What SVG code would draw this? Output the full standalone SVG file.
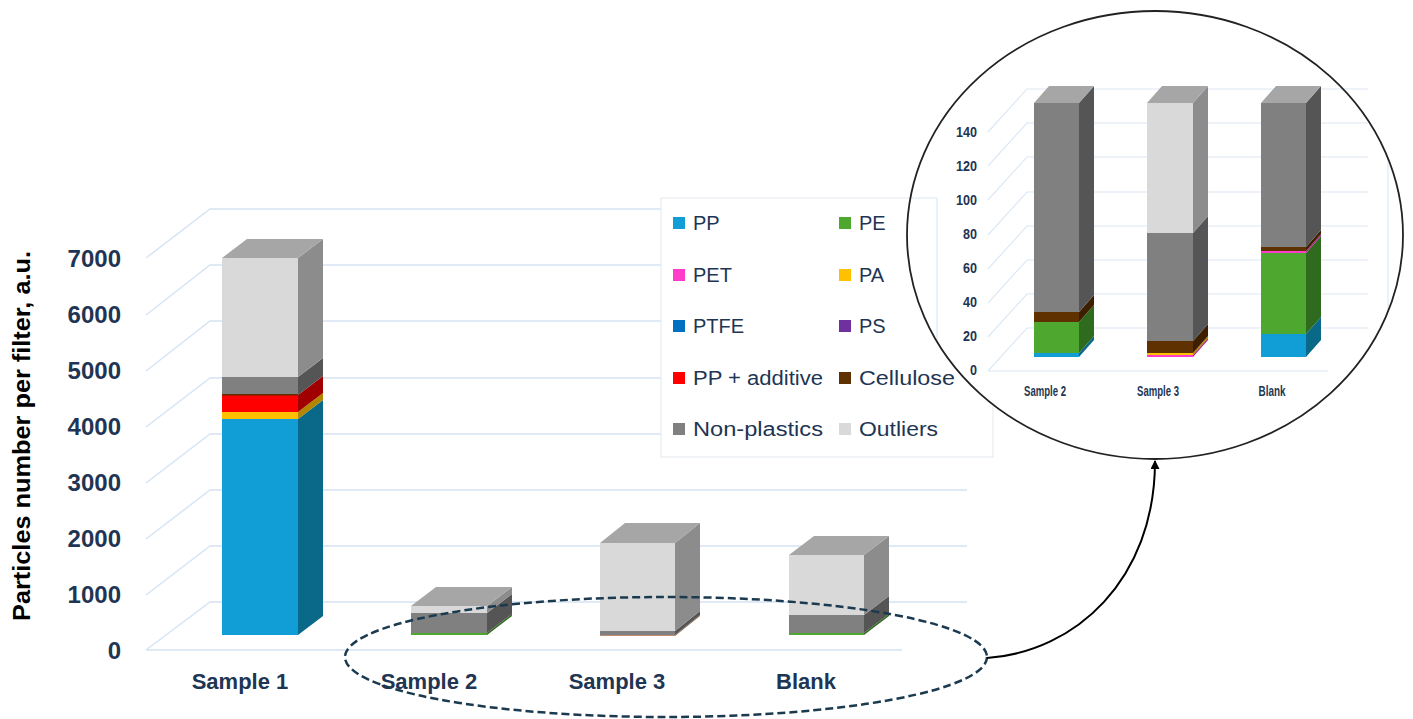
<svg xmlns="http://www.w3.org/2000/svg" width="1413" height="719" viewBox="0 0 1413 719">
<defs>
<style>
.grid{stroke:#d6e4f3;stroke-width:1.5;fill:none}
.igrid{stroke:#dde8f5;stroke-width:1.2;fill:none}
.ax{font-family:"Liberation Sans",Arial,sans-serif;font-weight:bold;font-size:24px;fill:#1e3553}
.cat{font-family:"Liberation Sans",Arial,sans-serif;font-weight:bold;font-size:22px;fill:#1e3553;text-anchor:middle}
.ttl{font-family:"Liberation Sans",Arial,sans-serif;font-weight:bold;font-size:23px;fill:#000;text-anchor:middle}
.leg{font-family:"Liberation Sans",Arial,sans-serif;font-size:20px;fill:#1e3553}
.iax{font-family:"Liberation Sans Narrow","Liberation Sans",Arial,sans-serif;font-weight:bold;font-size:15px;fill:#1e3553;text-anchor:end}
.icat{font-family:"Liberation Sans Narrow","Liberation Sans",Arial,sans-serif;font-weight:bold;font-size:14px;fill:#1e3553;text-anchor:middle}
.pp{fill:#119ed6}.pps{fill:#0a6889}
.pe{fill:#4ea72e}.pes{fill:#2e6b1e}
.pet{fill:#ff3dc8}.pets{fill:#b0208a}
.pa{fill:#ffc000}.pas{fill:#b38600}
.ptfe{fill:#0070c0}.ps{fill:#7030a0}
.ppa{fill:#ff0000}.ppas{fill:#a00000}
.cel{fill:#5f3000}.cels{fill:#3d1f00}
.np{fill:#808080}.nps{fill:#555555}
.out{fill:#d9d9d9}.outs{fill:#8c8c8c}
.top{fill:#a6a6a6}
</style>
<marker id="ah" viewBox="0 0 10 10" refX="9" refY="5" markerWidth="11" markerHeight="9" orient="auto-start-reverse" markerUnits="userSpaceOnUse">
<path d="M0,0 L10,5 L0,10 z" fill="#000"/>
</marker>
<clipPath id="ic"><ellipse cx="1155" cy="235" rx="247" ry="223"/></clipPath>
</defs>
<rect width="1413" height="719" fill="#fff"/>

<g id="grid">
<path class="grid" d="M146,650 L210,602 L967,602 M146,595 L210,546 L967,546 M146,539 L210,490 L967,490 M146,483 L210,434 L661,434 M146,427 L210,378 L661,378 M146,371 L210,321 L661,321 M146,315 L210,265 L661,265 M146,258 L210,209 L661,209 M146,650 L902,650"/>
</g>

<g id="axis-labels">
<text class="ax" x="121" y="659" text-anchor="end">0</text>
<text class="ax" x="121" y="603" text-anchor="end">1000</text>
<text class="ax" x="121" y="547" text-anchor="end">2000</text>
<text class="ax" x="121" y="491" text-anchor="end">3000</text>
<text class="ax" x="121" y="435" text-anchor="end">4000</text>
<text class="ax" x="121" y="379" text-anchor="end">5000</text>
<text class="ax" x="121" y="323" text-anchor="end">6000</text>
<text class="ax" x="121" y="267" text-anchor="end">7000</text>
<text class="ttl" transform="translate(30,436) rotate(-90)" textLength="370" lengthAdjust="spacingAndGlyphs">Particles number per filter, a.u.</text>
<text class="cat" x="240" y="689">Sample 1</text>
<text class="cat" x="429" y="689">Sample 2</text>
<text class="cat" x="617" y="689">Sample 3</text>
<text class="cat" x="806" y="689">Blank</text>
</g>

<g id="bar-sample1">
<rect class="pp" x="222" y="419" width="76" height="216"/>
<polygon class="pps" points="298,635 323,616 323,400 298,419"/>
<rect class="pa" x="222" y="412" width="76" height="7"/>
<polygon class="pas" points="298,419 323,400 323,393 298,412"/>
<rect class="ppa" x="222" y="395" width="76" height="17"/>
<polygon class="ppas" points="298,412 323,393 323,376 298,395"/>
<rect class="cel" x="222" y="394" width="76" height="1.5"/>
<rect class="np" x="222" y="377" width="76" height="17"/>
<polygon class="nps" points="298,395 323,376 323,358 298,377"/>
<rect class="out" x="222" y="258" width="76" height="119"/>
<polygon class="outs" points="298,377 323,358 323,239 298,258"/>
<polygon class="top" points="222,258 298,258 323,239 247,239"/>
</g>

<g id="bar-sample2">
<rect class="pe" x="411" y="632.5" width="76" height="2.5"/>
<polygon class="pes" points="487,635 512,616 512,614 487,633"/>
<rect class="np" x="411" y="613" width="76" height="20"/>
<polygon class="nps" points="487,633 512,614 512,594 487,613"/>
<rect class="out" x="411" y="606" width="76" height="7"/>
<polygon class="outs" points="487,613 512,594 512,587 487,606"/>
<polygon class="top" points="411,606 487,606 512,587 436,587"/>
</g>

<g id="bar-sample3">
<rect fill="#c09070" x="600" y="634.5" width="75" height="1.5"/>
<polygon fill="#8a6040" points="675,636 700,616 700,615 675,635"/>
<rect class="np" x="600" y="631" width="75" height="4"/>
<polygon class="nps" points="675,635 700,615 700,611 675,631"/>
<rect class="out" x="600" y="543" width="75" height="88"/>
<polygon class="outs" points="675,631 700,611 700,523 675,543"/>
<polygon class="top" points="600,543 675,543 700,523 625,523"/>
</g>

<g id="bar-blank">
<rect class="pe" x="789" y="632.5" width="75" height="2.5"/>
<polygon class="pes" points="864,635 889,616 889,614 864,633"/>
<rect class="np" x="789" y="615" width="75" height="18"/>
<polygon class="nps" points="864,633 889,614 889,596 864,615"/>
<rect class="out" x="789" y="555" width="75" height="60"/>
<polygon class="outs" points="864,615 889,596 889,536 864,555"/>
<polygon class="top" points="789,555 864,555 889,536 814,536"/>
</g>

<g id="legend">
<rect x="661" y="198" width="332" height="259" fill="#fff" stroke="#e3e8ee" stroke-width="1"/>
<rect class="pp" x="673" y="217" width="12" height="12"/><text class="leg" x="693" y="230">PP</text>
<rect class="pe" x="839" y="217" width="12" height="12"/><text class="leg" x="859" y="230">PE</text>
<rect class="pet" x="673" y="269" width="12" height="12"/><text class="leg" x="693" y="282">PET</text>
<rect class="pa" x="839" y="269" width="12" height="12"/><text class="leg" x="859" y="282">PA</text>
<rect class="ptfe" x="673" y="320" width="12" height="12"/><text class="leg" x="693" y="333">PTFE</text>
<rect class="ps" x="839" y="320" width="12" height="12"/><text class="leg" x="859" y="333">PS</text>
<rect class="ppa" x="673" y="372" width="12" height="12"/><text class="leg" x="693" y="385" textLength="130" lengthAdjust="spacingAndGlyphs">PP + additive</text>
<rect class="cel" x="839" y="372" width="12" height="12"/><text class="leg" x="859" y="385" textLength="96" lengthAdjust="spacingAndGlyphs">Cellulose</text>
<rect class="np" x="673" y="423" width="12" height="12"/><text class="leg" x="693" y="436" textLength="130" lengthAdjust="spacingAndGlyphs">Non-plastics</text>
<rect class="out" x="839" y="423" width="12" height="12"/><text class="leg" x="859" y="436" textLength="79" lengthAdjust="spacingAndGlyphs">Outliers</text>
</g>

<g id="highlight">
<ellipse cx="666" cy="657" rx="321" ry="60" fill="none" stroke="#1b3a4f" stroke-width="2.5" stroke-dasharray="8,4"/>
</g>

<g id="inset">
<ellipse cx="1155" cy="235" rx="248" ry="224" fill="#fff"/>
<g clip-path="url(#ic)">
<path class="igrid" d="M900,198 L937,198 L937,340 M1388,140 L1388,330"/>
</g>
<path class="igrid" d="M988,371 L1027,328 L1368,328 M988,337 L1027,294 L1368,294 M988,303 L1027,260 L1368,260 M988,269 L1027,226 L1368,226 M988,235 L1027,192 L1368,192 M988,200 L1027,157 L1368,157 M988,166 L1027,123 L1368,123 M988,132 L1027,89 L1368,89 M988,371 L1328,371"/>
<text class="iax" x="977" y="375" textLength="7" lengthAdjust="spacingAndGlyphs">0</text>
<text class="iax" x="977" y="341" textLength="14" lengthAdjust="spacingAndGlyphs">20</text>
<text class="iax" x="977" y="307" textLength="14" lengthAdjust="spacingAndGlyphs">40</text>
<text class="iax" x="977" y="273" textLength="14" lengthAdjust="spacingAndGlyphs">60</text>
<text class="iax" x="977" y="239" textLength="14" lengthAdjust="spacingAndGlyphs">80</text>
<text class="iax" x="977" y="205" textLength="21" lengthAdjust="spacingAndGlyphs">100</text>
<text class="iax" x="977" y="171" textLength="21" lengthAdjust="spacingAndGlyphs">120</text>
<text class="iax" x="977" y="137" textLength="21" lengthAdjust="spacingAndGlyphs">140</text>
<text class="icat" x="1045" y="396" textLength="42" lengthAdjust="spacingAndGlyphs">Sample 2</text>
<text class="icat" x="1158" y="396" textLength="42" lengthAdjust="spacingAndGlyphs">Sample 3</text>
<text class="icat" x="1272" y="396" textLength="27" lengthAdjust="spacingAndGlyphs">Blank</text>

<g id="inset-sample2">
<rect class="pp" x="1034" y="353" width="45" height="4"/>
<polygon class="pps" points="1079,357 1094,340 1094,336 1079,353"/>
<rect class="pe" x="1034" y="322" width="45" height="31"/>
<polygon class="pes" points="1079,353 1094,336 1094,305 1079,322"/>
<rect class="cel" x="1034" y="312" width="45" height="10"/>
<polygon class="cels" points="1079,322 1094,305 1094,295 1079,312"/>
<rect class="np" x="1034" y="103" width="45" height="209"/>
<polygon class="nps" points="1079,312 1094,295 1094,86 1079,103"/>
<polygon class="top" points="1034,103 1079,103 1094,86 1049,86"/>
</g>
<g id="inset-sample3">
<rect class="pet" x="1147" y="355" width="46" height="2"/>
<polygon class="pets" points="1193,357 1208,340 1208,338 1193,355"/>
<rect class="pa" x="1147" y="353" width="46" height="2"/>
<polygon class="pas" points="1193,355 1208,338 1208,336 1193,353"/>
<rect class="cel" x="1147" y="341" width="46" height="12"/>
<polygon class="cels" points="1193,353 1208,336 1208,324 1193,341"/>
<rect class="np" x="1147" y="233" width="46" height="108"/>
<polygon class="nps" points="1193,341 1208,324 1208,216 1193,233"/>
<rect class="out" x="1147" y="103" width="46" height="130"/>
<polygon class="outs" points="1193,233 1208,216 1208,86 1193,103"/>
<polygon class="top" points="1147,103 1193,103 1208,86 1162,86"/>
</g>
<g id="inset-blank">
<rect class="pp" x="1261" y="334" width="45" height="23"/>
<polygon class="pps" points="1306,357 1321,340 1321,317 1306,334"/>
<rect class="pe" x="1261" y="253" width="45" height="81"/>
<polygon class="pes" points="1306,334 1321,317 1321,236 1306,253"/>
<rect class="pet" x="1261" y="251" width="45" height="2"/>
<polygon class="pets" points="1306,253 1321,236 1321,234 1306,251"/>
<rect class="cel" x="1261" y="247" width="45" height="4"/>
<polygon class="cels" points="1306,251 1321,234 1321,230 1306,247"/>
<rect class="np" x="1261" y="103" width="45" height="144"/>
<polygon class="nps" points="1306,247 1321,230 1321,86 1306,103"/>
<polygon class="top" points="1261,103 1306,103 1321,86 1276,86"/>
</g>
<ellipse cx="1155" cy="235" rx="248" ry="224" fill="none" stroke="#222" stroke-width="1.8"/>
</g>

<g id="connectors">
<path d="M987,658 C1075,652 1155,580 1155,461" fill="none" stroke="#000" stroke-width="2" marker-end="url(#ah)"/>
</g>
</svg>
